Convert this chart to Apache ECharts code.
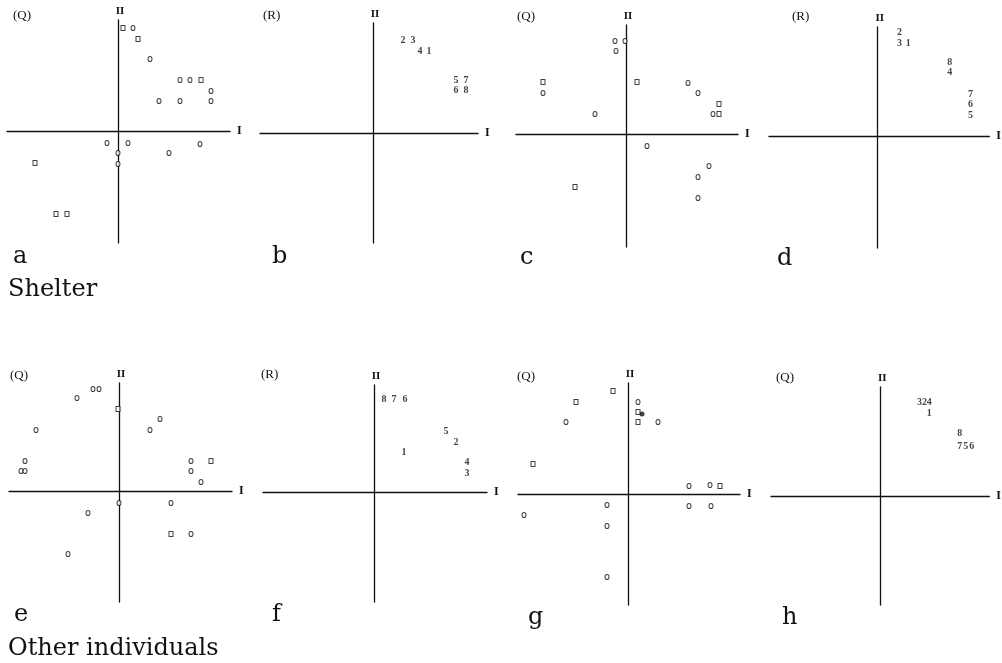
<!DOCTYPE html>
<html>
<head>
<meta charset="utf-8">
<script src="https://cdn.jsdelivr.net/npm/echarts@6/dist/echarts.min.js"></script>
<style>
html,body{margin:0;padding:0;background:#fff;}
#chart{width:1002px;height:663px;}
</style>
</head>
<body>
<div id="chart"></div>
<script>
// ---- Data (coordinates, origin-relative units) ----
const aCircles = [[15,103],[32,72],[62,51],[72,51],[93,40],[41,30],[62,30],[93,30],[-11,-12],[10,-12],[82,-13],[0,-22],[51,-22],[0,-33]];
const aSquares = [[5,103],[20,92],[83,51],[-83,-32],[-62,-83],[-51,-83]];

const bLabels = [[30,93,'2'],[40,93,'3'],[47,82,'4'],[56,82,'1'],[83,53,'5'],[93,53,'7'],[83,43,'6'],[93,43,'8']];

const cCircles = [[-11,93],[-1,93],[-10,83],[-83,41],[62,51],[72,41],[87,20],[-31,20],[21,-12],[83,-32],[72,-43],[72,-64]];
const cSquares = [[-83,52],[11,52],[93,30],[93,20],[-51,-53]];

const dLabels = [[22,104,'2'],[22,93,'3'],[31,93,'1'],[73,74,'8'],[73,64,'4'],[94,42,'7'],[94,32,'6'],[94,21,'5']];

const eCircles = [[-26,102],[-20,102],[-42,93],[41,72],[31,61],[-83,61],[-94,30],[-98,20],[-94,20],[72,30],[72,20],[82,9],[0,-12],[52,-12],[-31,-22],[72,-43],[-51,-63]];
const eSquares = [[-1,82],[92,30],[52,-43]];

const fLabels = [[10,93,'8'],[20,93,'7'],[31,93,'6'],[72,61,'5'],[82,50,'2'],[30,40,'1'],[93,30,'4'],[93,19,'3']];

const gCircles = [[10,92],[30,72],[-62,72],[61,8],[82,9],[-21,-11],[61,-12],[83,-12],[-104,-21],[-21,-32],[-21,-83]];
const gSquares = [[-15,103],[-52,92],[10,82],[10,72],[-95,30],[92,8]];
const gFilled = [[14,80]];

const hLabels = [[40,94,'3'],[45,94,'2'],[50,94,'4'],[50,83,'1'],[81,63,'8'],[81,50,'7'],[87,50,'5'],[93,50,'6']];

const panelTags = ['(Q)','(R)','(Q)','(R)','(Q)','(R)','(Q)','(Q)'];
const panelLetters = ['a','b','c','d','e','f','g','h'];
const rowTitles = ['Shelter','Other individuals'];
const axisNames = ['I','II'];

// ---- Layout ----
const panels = [
  {o:[118,131], x:[-111,112], y:[-112,111], c:aCircles, s:aSquares},
  {o:[373,133], x:[-113,105], y:[-110,110], l:bLabels},
  {o:[626,134], x:[-110,112], y:[-113,109], c:cCircles, s:cSquares},
  {o:[879,136], x:[-110,113], y:[-112,109], l:dLabels},
  {o:[119,491], x:[-110,113], y:[-111,108], c:eCircles, s:eSquares},
  {o:[374,492], x:[-111,113], y:[-110,107], l:fLabels},
  {o:[628,494], x:[-110,112], y:[-111,111], c:gCircles, s:gSquares, f:gFilled},
  {o:[882,496], x:[-111,111], y:[-109,109], l:hLabels}
];
const tagPos = [[13,16],[263,16],[517,17],[792,17],[10,376],[261,375],[517,377],[776,378]];
const letterPos = [[13,257],[272,257],[520,258],[777,259],[14,615],[272,615],[528,618],[782,618]];
const titlePos = [[8,290],[8,649]];

const serif = 'Liberation Serif';
const grids = [], xAxes = [], yAxes = [], series = [];
const lineStyle = {color:'#111', width:1.3};

panels.forEach((p, i) => {
  grids.push({left: p.o[0] + p.x[0], top: p.o[1] - p.y[1], width: p.x[1] - p.x[0], height: p.y[1] - p.y[0], containLabel:false});
  xAxes.push({type:'value', gridIndex:i, min:p.x[0], max:p.x[1],
    axisLine:{show:true, onZero:true, lineStyle}, axisTick:{show:false}, axisLabel:{show:false}, splitLine:{show:false},
    name:axisNames[0], nameLocation:'end', nameGap:7,
    nameTextStyle:{fontFamily:serif, fontSize:12, fontWeight:'bold', color:'#111', verticalAlign:'middle'}});
  yAxes.push({type:'value', gridIndex:i, min:p.y[0], max:p.y[1],
    axisLine:{show:true, onZero:true, lineStyle}, axisTick:{show:false}, axisLabel:{show:false}, splitLine:{show:false},
    name:axisNames[1], nameLocation:'end', nameGap:3,
    nameTextStyle:{fontFamily:serif, fontSize:11, fontWeight:'bold', color:'#111', padding:[0,0,0,4]}});
  const base = {type:'scatter', xAxisIndex:i, yAxisIndex:i, silent:true, animation:false};
  if (p.c) series.push(Object.assign({}, base, {data:p.c, symbol:'circle', symbolSize:[4,5],
    itemStyle:{color:'#fff', borderColor:'#111', borderWidth:1.1}}));
  if (p.s) series.push(Object.assign({}, base, {data:p.s, symbol:'rect', symbolSize:[4,5],
    itemStyle:{color:'#fff', borderColor:'#111', borderWidth:1.1}}));
  if (p.f) series.push(Object.assign({}, base, {data:p.f, symbol:'circle', symbolSize:5,
    itemStyle:{color:'#111'}}));
  if (p.l) series.push(Object.assign({}, base, {data:p.l, symbolSize:0,
    label:{show:true, position:'inside', formatter: d => d.value[2],
      fontFamily:serif, fontSize:10, fontWeight:'bold', color:'#111'}}));
});

const graphics = [];
panelTags.forEach((t, i) => graphics.push({type:'text', left:tagPos[i][0], top:tagPos[i][1]-7,
  style:{text:t, font:'13px "Liberation Serif"', fill:'#111'}}));
panelLetters.forEach((t, i) => graphics.push({type:'text', left:letterPos[i][0], top:letterPos[i][1]-12,
  style:{text:t, font:'24px "DejaVu Serif"', fill:'#111'}}));
rowTitles.forEach((t, i) => graphics.push({type:'text', left:titlePos[i][0], top:titlePos[i][1]-12,
  style:{text:t, font:'24px "DejaVu Serif"', fill:'#111'}}));

const chart = echarts.init(document.getElementById('chart'), null, {renderer:'canvas'});
chart.setOption({
  backgroundColor:'#fff',
  animation:false,
  grid:grids, xAxis:xAxes, yAxis:yAxes, series:series, graphic:graphics
});
</script>
</body>
</html>
